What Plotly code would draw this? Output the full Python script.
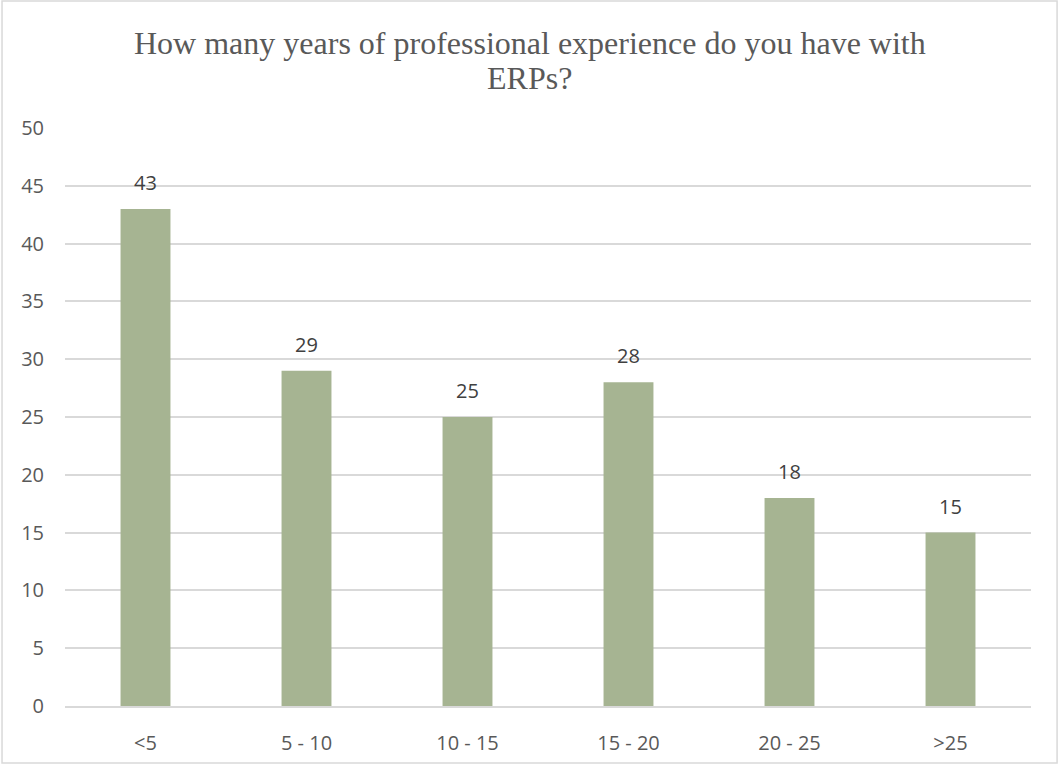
import plotly.graph_objects as go

categories = ["<5", "5 - 10", "10 - 15", "15 - 20", "20 - 25", ">25"]
counts = [43, 29, 25, 28, 18, 15]
y_ticks = [0, 5, 10, 15, 20, 25, 30, 35, 40, 45, 50]
title_lines = ["How many years of professional experience do you have with", "ERPs?"]

label_font = dict(family="Open Sans, Liberation Sans, sans-serif", size=20, color="#404040")
tick_font = dict(family="Open Sans, Liberation Sans, sans-serif", size=20, color="#595959")
title_font = dict(family="Liberation Serif, Times New Roman, serif", size=32, color="#595959")

fig = go.Figure(
    go.Bar(
        x=categories,
        y=counts,
        marker=dict(color="#a6b492", line=dict(width=0)),
        cliponaxis=False,
    )
)

# value labels above each bar
for cat, val in zip(categories, counts):
    fig.add_annotation(
        x=cat,
        y=val,
        text=str(val),
        showarrow=False,
        yanchor="bottom",
        yshift=11,
        font=label_font,
    )

# two-line chart title, centred on the page, with tight line spacing
for text, ypos in zip(title_lines, [1.147, 1.0865]):
    fig.add_annotation(
        x=0.481,
        y=ypos,
        xref="paper",
        yref="paper",
        xanchor="center",
        yanchor="middle",
        text=text,
        showarrow=False,
        font=title_font,
    )

fig.update_layout(
    width=1059,
    height=767,
    margin=dict(l=65, r=28, t=128, b=61),
    paper_bgcolor="white",
    plot_bgcolor="white",
    bargap=0.69,
    showlegend=False,
    xaxis=dict(
        showgrid=False,
        showline=True,
        linecolor="#d9d9d9",
        linewidth=1.5,
        ticks="",
        tickfont=tick_font,
        ticklabelstandoff=18,
    ),
    yaxis=dict(
        range=[0, 50],
        tickvals=y_ticks,
        showgrid=True,
        gridcolor="#d9d9d9",
        gridwidth=1.5,
        zeroline=False,
        showline=False,
        ticks="",
        tickfont=tick_font,
        ticklabelstandoff=20,
    ),
    shapes=[
        dict(
            type="rect",
            xref="paper",
            yref="paper",
            x0=-0.0652,
            x1=1.027,
            y0=-0.0986,
            y1=1.2197,
            line=dict(color="#d9d9d9", width=1.5),
            fillcolor="rgba(0,0,0,0)",
            layer="below",
        )
    ],
)

fig.write_html("out.html")
